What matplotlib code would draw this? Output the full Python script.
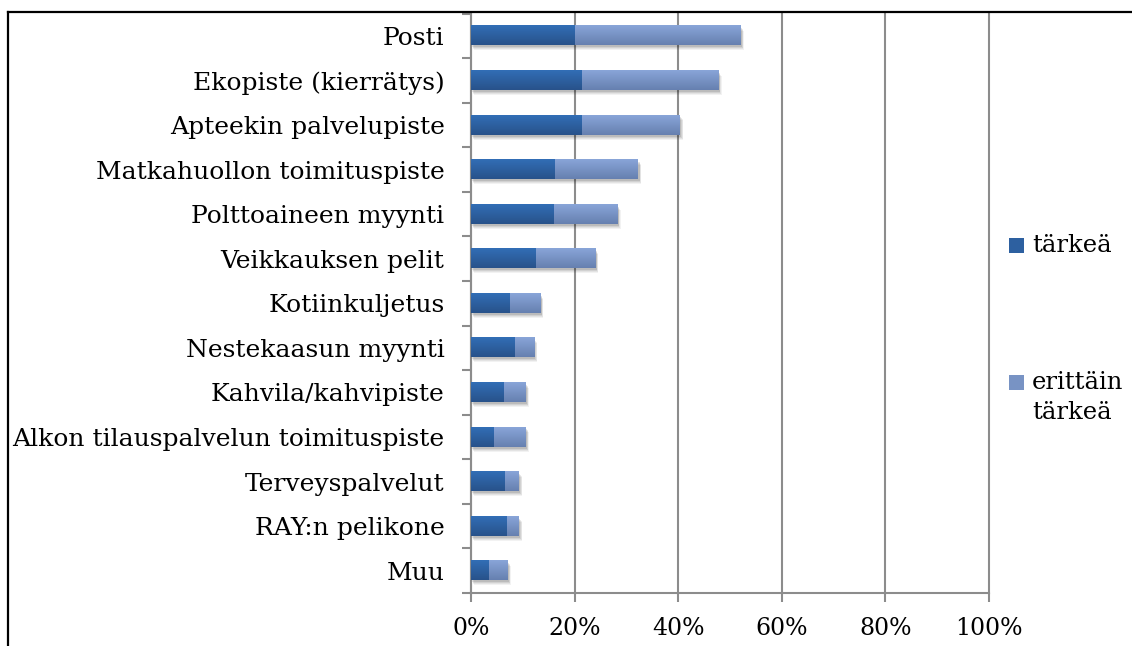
import matplotlib
matplotlib.use('Agg')
import matplotlib.pyplot as plt
import numpy as np
from matplotlib.patches import Rectangle
from matplotlib.lines import Line2D
from matplotlib.transforms import ScaledTranslation

plt.rcParams['font.family'] = ['DejaVu Serif']

# --- Data (percent) ---
kategoriat = ['Posti', 'Ekopiste (kierrätys)', 'Apteekin palvelupiste',
              'Matkahuollon toimituspiste', 'Polttoaineen myynti',
              'Veikkauksen pelit', 'Kotiinkuljetus', 'Nestekaasun myynti',
              'Kahvila/kahvipiste', 'Alkon tilauspalvelun toimituspiste',
              'Terveyspalvelut', 'RAY:n pelikone', 'Muu']
tarkea = [20.1, 21.5, 21.5, 16.3, 16.1, 12.6, 7.5, 8.5, 6.4, 4.5, 6.6, 7.0, 3.5]
erittain_tarkea = [32.0, 26.3, 18.9, 16.0, 12.2, 11.4, 5.9, 3.7, 4.2, 6.1, 2.7, 2.3, 3.6]
sarjat = ['tärkeä', 'erittäin\ntärkeä']
x_ticks = [0, 20, 40, 60, 80, 100]

# gradient colours (top, bottom)
TUMMA = (np.array([50, 110, 182]) / 255, np.array([40, 82, 138]) / 255)
VAALEA = (np.array([137, 165, 216]) / 255, np.array([102, 128, 176]) / 255)
GRID = '#8c8c8c'

fig = plt.figure(figsize=(11.32, 6.46), dpi=100)
ax = fig.add_axes([471 / 1132, 53 / 646, 518 / 1132, 579.5 / 646])

y = np.arange(len(kategoriat))
h = 0.43
tarkea = np.array(tarkea)
erittain_tarkea = np.array(erittain_tarkea)
yhteensa = tarkea + erittain_tarkea

# soft shadow
for k, a in [(5, 0.05), (4, 0.06), (3, 0.08), (2, 0.1)]:
    sh = ax.barh(y, yhteensa, height=h, color='black', alpha=a, zorder=2, linewidth=0)
    for p in sh:
        p.set_transform(ax.transData + ScaledTranslation(k * 0.6 / 100, -k / 100, fig.dpi_scale_trans))

b1 = ax.barh(y, tarkea, height=h, color=TUMMA[0], zorder=3, linewidth=0)
b2 = ax.barh(y, erittain_tarkea, left=tarkea, height=h, color=VAALEA[0], zorder=3, linewidth=0)


def gradientti(bars, varit):
    t = np.linspace(0, 1, 64)[:, None, None]
    img = varit[0] * (1 - t) + varit[1] * t
    for b in bars:
        x0, y0 = b.get_x(), b.get_y()
        w, hh = b.get_width(), b.get_height()
        ax.imshow(img, extent=[x0, x0 + w, y0 + hh, y0], origin='upper',
                  aspect='auto', zorder=4, interpolation='bilinear')


gradientti(b1, TUMMA)
gradientti(b2, VAALEA)

ax.set_xlim(0, 100)
ax.set_ylim(len(kategoriat) - 0.5, -0.5)

ax.set_xticks(x_ticks)
ax.set_xticklabels([f'{v}%' for v in x_ticks])
ax.set_yticks(y)
ax.set_yticklabels(kategoriat)
ax.set_yticks(np.arange(len(kategoriat) + 1) - 0.5, minor=True)

ax.tick_params(axis='y', which='major', length=0, pad=19, labelsize=18)
ax.tick_params(axis='y', which='minor', length=6.5, width=1.5, color=GRID)
ax.tick_params(axis='x', which='major', length=6.5, width=1.5, color=GRID, pad=11, labelsize=17)

ax.xaxis.grid(True, color=GRID, linewidth=1.5, zorder=0)
ax.yaxis.grid(False)
ax.set_axisbelow(True)
for gl in ax.get_xgridlines():
    gl.set_clip_on(False)

for s in ['top', 'right']:
    ax.spines[s].set_visible(False)
for s in ['left', 'bottom']:
    ax.spines[s].set_color(GRID)
    ax.spines[s].set_linewidth(1.5)

# legend drawn by hand
W, H = 1132, 646
for (yy, vari), nimi in zip([(246, TUMMA), (383, VAALEA)], sarjat):
    fig.add_artist(Rectangle((1009 / W, 1 - (yy + 7) / H), 15 / W, 15 / H,
                             transform=fig.transFigure,
                             facecolor=(vari[0] + vari[1]) / 2, edgecolor='none'))
    fig.text(1032 / W, 1 - (yy - 12) / H, nimi, fontsize=17.5, va='top', ha='left',
             linespacing=1.4)

# outer frame
fig.add_artist(Line2D([8 / W, 8 / W], [0, 1 - 12 / H], transform=fig.transFigure,
                      color='black', linewidth=1.6))
fig.add_artist(Line2D([8 / W, 1], [1 - 12 / H, 1 - 12 / H], transform=fig.transFigure,
                      color='black', linewidth=1.6))

fig.savefig('out.png', dpi=100)
